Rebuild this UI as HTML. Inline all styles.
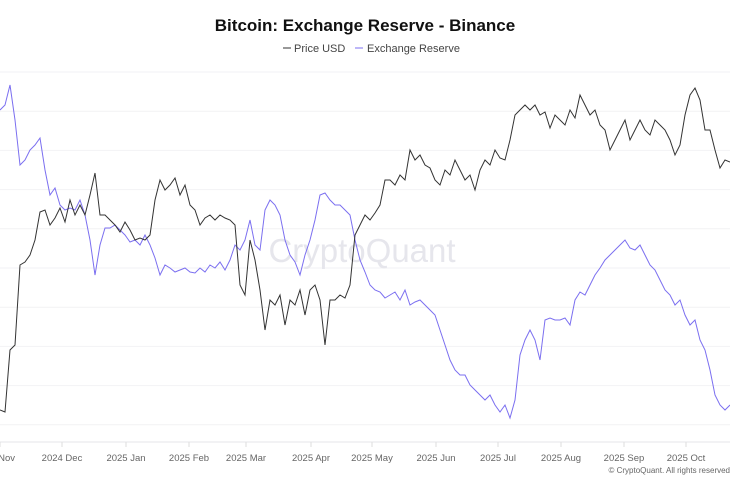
<!DOCTYPE html>
<html><head><meta charset="utf-8"><style>
body{margin:0;background:#fff;font-family:"Liberation Sans",sans-serif;}
#wrap{position:relative;width:730px;height:485px;overflow:hidden;}
</style></head><body>
<div id="wrap">
<svg id="chart" width="730" height="485">
<text x="365" y="31" text-anchor="middle" font-size="17" font-weight="bold" fill="#111">Bitcoin: Exchange Reserve - Binance</text>
<g>
<line x1="283" y1="48" x2="291" y2="48" stroke="#333"/>
<text x="294" y="52" font-size="11" fill="#444">Price USD</text>
<line x1="355" y1="48" x2="363" y2="48" stroke="#7b6ff0"/>
<text x="367" y="52" font-size="11" fill="#444">Exchange Reserve</text>
</g>
<g id="grid"></g>
<text x="362" y="262" text-anchor="middle" font-size="33" fill="#e6e6ec">CryptoQuant</text>
<g id="xaxis"></g>
<g id="series"></g>
<text x="730" y="473" text-anchor="end" font-size="8" fill="#666">© CryptoQuant. All rights reserved</text>
</svg></div>
<script>
const tickLabels=["24 Nov","2024 Dec","2025 Jan","2025 Feb","2025 Mar","2025 Apr","2025 May","2025 Jun","2025 Jul","2025 Aug","2025 Sep","2025 Oct"];
const tickIndex=[0,12.4,25.2,37.8,49.2,62.2,74.4,87.2,99.6,112.2,124.8,137.2];
const priceUSD=[30,28,90,95,175,178,185,200,228,230,215,222,232,218,240,225,235,225,245,267,225,225,220,215,208,218,210,200,202,200,205,240,260,250,255,262,245,255,235,230,215,222,225,220,225,222,220,215,155,145,200,180,150,110,140,135,145,115,140,135,150,125,150,155,140,95,140,140,145,142,155,205,215,225,220,227,235,260,260,255,265,260,290,280,285,275,272,260,255,270,265,280,270,260,265,250,270,280,275,290,282,280,300,325,330,335,330,335,325,328,312,325,320,315,330,322,345,335,325,330,315,310,290,300,310,320,300,310,320,310,305,320,315,310,300,285,295,325,345,352,340,310,310,290,272,280,278];
const exchangeReserve=[330,335,355,320,275,280,290,295,302,270,245,252,235,230,232,230,240,225,200,165,195,212,212,215,210,205,198,200,195,205,195,182,165,175,172,168,170,172,168,167,172,168,175,172,178,170,180,195,190,200,220,195,190,230,240,235,225,200,185,178,165,185,200,220,245,247,240,235,235,230,225,200,180,168,155,150,148,142,145,148,140,150,135,138,140,135,130,125,110,95,80,70,65,65,55,50,45,40,45,35,28,35,22,40,85,100,110,100,80,120,122,120,120,122,115,140,148,145,155,165,172,180,185,190,195,200,192,190,195,185,175,170,160,150,145,135,140,125,115,120,100,90,70,45,35,30,35];
const W=730,N=priceUSD.length;
const x=i=>i*W/(N-1);
const y=v=>440-v;
const ns="http://www.w3.org/2000/svg";
const grid=document.getElementById('grid');
for(let k=0;k<10;k++){const gy=72+k*39.2;const l=document.createElementNS(ns,'line');
l.setAttribute('x1',0);l.setAttribute('x2',W);l.setAttribute('y1',gy);l.setAttribute('y2',gy);l.setAttribute('stroke','#f2f2f4');


grid.appendChild(l);}
const xa=document.getElementById('xaxis');
const al=document.createElementNS(ns,'line');al.setAttribute('x1',0);al.setAttribute('x2',W);al.setAttribute('y1',442);al.setAttribute('y2',442);al.setAttribute('stroke','#e6e6ea');


xa.appendChild(al);
tickLabels.forEach((t,j)=>{const tx=x(tickIndex[j]);
const tk=document.createElementNS(ns,'line');tk.setAttribute('x1',tx);tk.setAttribute('x2',tx);tk.setAttribute('y1',442);tk.setAttribute('y2',447);tk.setAttribute('stroke','#ddd');


xa.appendChild(tk);
const tt=document.createElementNS(ns,'text');tt.setAttribute('x',tx);tt.setAttribute('y',461);tt.setAttribute('text-anchor','middle');tt.setAttribute('font-size','9.5');tt.setAttribute('fill','#666');tt.textContent=t;


xa.appendChild(tt);});
const s=document.getElementById('series');
function line(arr,col,name){const p=document.createElementNS(ns,'path');
p.setAttribute('d',arr.map((v,i)=>(i?'L':'M')+x(i).toFixed(1)+' '+y(v)).join(''));
p.setAttribute('fill','none');p.setAttribute('stroke',col);p.setAttribute('stroke-width','1');


s.appendChild(p);}
line(exchangeReserve,'#7b6ff0','exchange-reserve-line');
line(priceUSD,'#333','price-usd-line');
</script></body></html>
